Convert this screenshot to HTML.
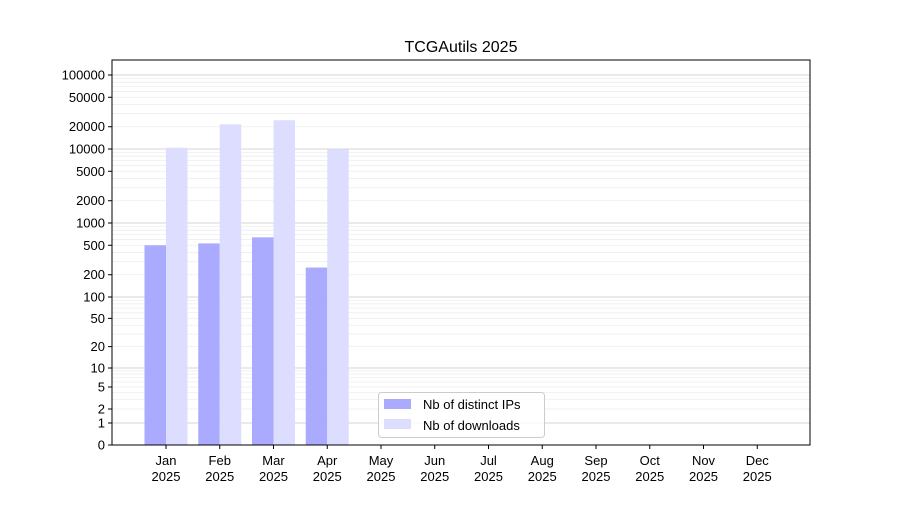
<!DOCTYPE html>
<html><head><meta charset="utf-8"><style>
body{margin:0;background:#fff}
svg{font-family:"Liberation Sans","DejaVu Sans",sans-serif}
</style></head><body>
<svg id="s" width="900" height="500" xmlns="http://www.w3.org/2000/svg">
<rect width="900" height="500" fill="#fff"/>
<text x="461" y="52" font-size="16" text-anchor="middle" fill="#000">TCGAutils 2025</text>
<g id="g"></g>
</svg>
<script>
const g=document.getElementById('g');
const L=112,R=810,T=60,B=445;
const dec=[[1,423],[2,409],[5,387],[10,368],[100,297],[1000,223],[10000,149],[100000,75],[1000000,1]];
function Y(v){
  if(v<=0)return B;
  if(v<1)return B-(B-423)*v;
  for(let i=0;i<dec.length-1;i++){
    const[a,ya]=dec[i],[b,yb]=dec[i+1];
    if(v<=b)return ya+(yb-ya)*Math.log10(v/a)/Math.log10(b/a);
  }
  return 1;
}
let h='';
for(let k=0;k<6;k++){for(let m=2;m<=9;m++){const v=m*Math.pow(10,k);const y=Y(v);if(y>T)h+=`<line x1="${L}" x2="${R}" y1="${y}" y2="${y}" stroke="#eeeeee" stroke-width="0.8"/>`;}}
[0,1,10,100,1000,10000,100000].forEach(v=>{const y=Y(v);h+=`<line x1="${L}" x2="${R}" y1="${y}" y2="${y}" stroke="#c8c8c8" stroke-width="0.8"/>`;});
const ips=[500,530,640,250],dl=[10400,21500,24500,9900];
const cx=i=>166+i*53.75;
for(let i=0;i<4;i++){
  let y=Y(ips[i]);h+=`<rect x="${cx(i)-21.5}" y="${y}" width="21.5" height="${B-y}" fill="#aaaaff"/>`;
  y=Y(dl[i]);h+=`<rect x="${cx(i)}" y="${y}" width="21.5" height="${B-y}" fill="#ddddff"/>`;
}
h+=`<rect x="${L}" y="${T}" width="${R-L}" height="${B-T}" fill="none" stroke="#000" stroke-width="1"/>`;
[0,1,2,5,10,20,50,100,200,500,1000,2000,5000,10000,20000,50000,100000].forEach(v=>{const y=Y(v);
h+=`<line x1="${L-4}" x2="${L}" y1="${y}" y2="${y}" stroke="#000"/><text x="${L-7}" y="${y+4.5}" font-size="13" text-anchor="end">${v}</text>`;});
const mo=['Jan','Feb','Mar','Apr','May','Jun','Jul','Aug','Sep','Oct','Nov','Dec'];
mo.forEach((m,i)=>{const x=cx(i);h+=`<line x1="${x}" x2="${x}" y1="${B}" y2="${B+4}" stroke="#000"/><text x="${x}" y="${B+20}" font-size="13" text-anchor="middle">${m}</text><text x="${x}" y="${B+36}" font-size="13" text-anchor="middle">2025</text>`;});
h+=`<rect x="378.5" y="392.5" width="166" height="45" rx="3" fill="#fff" fill-opacity="0.8" stroke="#ccc"/>
<rect x="384" y="399" width="27" height="10" fill="#aaaaff"/><text x="423" y="409" font-size="13">Nb of distinct IPs</text>
<rect x="384" y="419" width="27" height="10" fill="#ddddff"/><text x="423" y="430" font-size="13">Nb of downloads</text>`;
g.innerHTML=h;
</script>
</body></html>
